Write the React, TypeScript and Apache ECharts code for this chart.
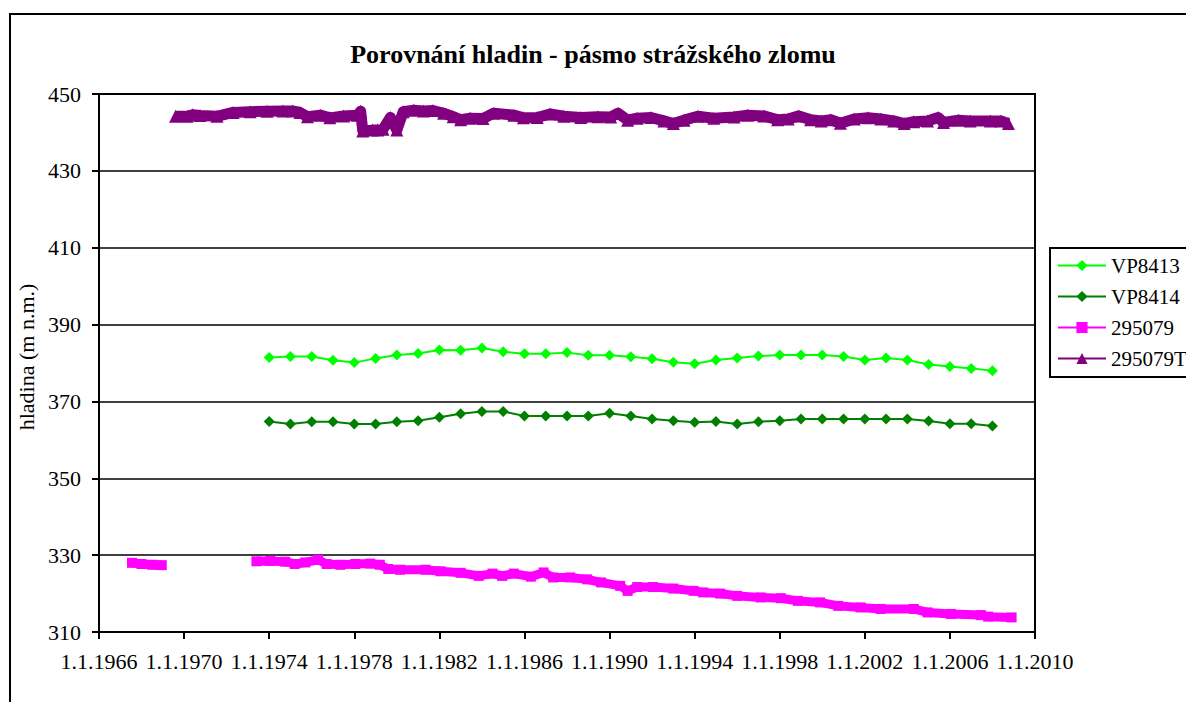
import React, { useEffect, useRef } from 'react';
import * as echarts from 'echarts';

const TITLE = 'Porovnání hladin - pásmo strážského zlomu';
const Y_NAME = 'hladina (m n.m.)';
const X_MIN = 1966;
const X_MAX = 2010;
const X_STEP = 4;
const Y_MIN = 310;
const Y_MAX = 450;
const Y_STEP = 20;

const vpYears = [1974, 1975, 1976, 1977, 1978, 1979, 1980, 1981, 1982, 1983, 1984, 1985, 1986, 1987, 1988, 1989, 1990, 1991, 1992, 1993, 1994, 1995, 1996, 1997, 1998, 1999, 2000, 2001, 2002, 2003, 2004, 2005, 2006, 2007, 2008];
const vp8413 = [381.4, 381.7, 381.7, 380.7, 380.1, 381.2, 382.1, 382.5, 383.4, 383.3, 383.9, 382.9, 382.4, 382.4, 382.7, 382.0, 382.0, 381.6, 381.1, 380.2, 379.8, 380.8, 381.3, 381.8, 382.1, 382.1, 382.1, 381.7, 380.8, 381.3, 380.8, 379.6, 379.1, 378.6, 378.0];
const vp8414 = [364.8, 364.1, 364.7, 364.7, 364.1, 364.1, 364.7, 365.0, 365.9, 366.8, 367.4, 367.4, 366.2, 366.2, 366.2, 366.2, 366.9, 366.2, 365.4, 365.0, 364.6, 364.8, 364.1, 364.7, 365.0, 365.4, 365.4, 365.4, 365.4, 365.4, 365.4, 364.9, 364.2, 364.2, 363.6];

const s295079Years = [1967.55, 1968.0, 1968.5, 1968.95, 1971.0, 1973.4, 1974.05, 1974.75, 1975.2, 1975.7, 1976.3, 1976.7, 1977.35, 1978.05, 1978.75, 1979.2, 1979.6, 1980.15, 1981.35, 1982.05, 1983.0, 1983.85, 1984.5, 1984.95, 1985.5, 1986.3, 1986.9, 1987.35, 1988.15, 1988.95, 1989.6, 1990.5, 1990.85, 1991.3, 1992.05, 1993.0, 1993.95, 1994.4, 1995.2, 1996.0, 1997.1, 1998.05, 1998.85, 1999.9, 2000.75, 2001.8, 2002.75, 2004.3, 2004.95, 2006.05, 2007.45, 2007.8, 2008.9];
const s295079 = [328.0, 327.7, 327.5, 327.4, null, 328.4, 328.5, 328.3, 327.7, 328.1, 328.8, 327.7, 327.5, 327.7, 327.8, 327.5, 326.4, 326.2, 326.2, 325.8, 325.4, 324.6, 325.2, 324.6, 325.2, 324.4, 325.5, 324.2, 324.2, 323.7, 322.9, 322.0, 320.7, 321.7, 321.7, 321.3, 320.7, 320.3, 320.0, 319.4, 319.0, 318.8, 318.1, 317.7, 316.8, 316.4, 316.0, 316.0, 315.1, 314.7, 314.4, 314.0, 313.8];

const s295079TYears = [1969.6, 1970.15, 1970.4, 1970.75, 1971.55, 1972.3, 1973.1, 1973.9, 1974.65, 1975.1, 1975.45, 1975.8, 1976.4, 1976.85, 1977.5, 1978.15, 1978.3, 1978.4, 1978.85, 1979.1, 1979.35, 1979.7, 1980.0, 1980.3, 1980.8, 1981.25, 1981.7, 1982.2, 1982.65, 1983.0, 1983.45, 1984.05, 1984.55, 1985.5, 1985.95, 1986.6, 1987.2, 1987.85, 1988.65, 1989.45, 1990.05, 1990.4, 1990.85, 1991.3, 1991.95, 1992.55, 1993.0, 1993.5, 1994.15, 1994.9, 1995.85, 1996.5, 1997.25, 1997.9, 1998.4, 1998.9, 1999.45, 1999.95, 2000.4, 2000.85, 2001.5, 2002.15, 2002.75, 2003.35, 2003.85, 2004.3, 2004.95, 2005.45, 2005.7, 2006.4, 2006.95, 2007.9, 2008.4, 2008.75];
const s295079T = [444.2, 444.2, 444.6, 444.4, 444.2, 445.2, 445.4, 445.5, 445.6, 445.6, 445.2, 444.1, 444.5, 443.8, 444.3, 444.5, 445.5, 440.4, 440.6, 440.6, 440.8, 443.9, 440.6, 445.4, 445.8, 445.6, 445.7, 445.0, 444.1, 443.3, 443.7, 443.6, 445.0, 444.5, 443.8, 443.9, 444.8, 444.2, 443.9, 444.1, 444.0, 445.0, 443.2, 443.7, 443.9, 443.0, 442.3, 443.2, 444.2, 443.7, 444.0, 444.5, 444.3, 443.3, 443.5, 444.3, 443.3, 443.0, 443.3, 442.4, 443.5, 443.8, 443.5, 443.0, 442.3, 442.8, 443.0, 443.9, 442.6, 443.2, 443.0, 443.0, 443.0, 442.3];

const FONT = "'Liberation Serif', 'Times New Roman', serif";

const pairs = (xs: number[], ys: (number | null)[]) =>
  xs.map((x, i) => [x, ys[i] === null ? '-' : ys[i]]);

export default function App() {
  const ref = useRef<HTMLDivElement>(null);
  useEffect(() => {
    if (!ref.current) return;
    const chart = echarts.init(ref.current, undefined, { renderer: 'svg' });
    chart.setOption({
      animation: false,
      backgroundColor: '#fff',
      textStyle: { fontFamily: FONT, color: '#000' },
      title: {
        text: TITLE,
        left: 'center',
        top: 41,
        padding: 0,
        textStyle: { fontFamily: FONT, fontSize: 26, fontWeight: 'bold', color: '#000' },
      },
      graphic: [
        {
          type: 'rect',
          silent: true,
          shape: { x: 10, y: 14, width: 1300, height: 800 },
          style: { fill: 'none', stroke: '#000', lineWidth: 2 },
          z: 100,
        },
      ],
      grid: {
        left: 99,
        top: 94,
        right: 151,
        bottom: 70,
        show: true,
        borderColor: '#000',
        borderWidth: 2,
        backgroundColor: 'transparent',
      },
      legend: {
        orient: 'vertical',
        left: 1050,
        top: 248,
        padding: [7, 8, 8, 7],
        itemGap: 10,
        itemWidth: 48,
        itemHeight: 14,
        borderColor: '#000',
        borderWidth: 2,
        lineStyle: { width: 2 },
        textStyle: { fontFamily: FONT, fontSize: 21, color: '#000' },
        data: ['VP8413', 'VP8414', '295079', '295079T'],
      },
      xAxis: {
        type: 'value',
        min: X_MIN,
        max: X_MAX,
        interval: X_STEP,
        axisLine: { lineStyle: { color: '#000', width: 2 } },
        axisTick: { show: true, length: 7, lineStyle: { color: '#000', width: 2 } },
        axisLabel: {
          fontFamily: FONT,
          fontSize: 22,
          color: '#000',
          margin: 18,
          formatter: (v: number) => '1.1.' + v,
        },
        splitLine: { show: false },
      },
      yAxis: {
        type: 'value',
        min: Y_MIN,
        max: Y_MAX,
        interval: Y_STEP,
        name: Y_NAME,
        nameLocation: 'middle',
        nameGap: 53,
        nameTextStyle: { fontFamily: FONT, fontSize: 22, color: '#000', padding: [0, 0, 0, 12] },
        axisLine: { show: true, lineStyle: { color: '#000', width: 2 } },
        axisTick: { show: true, length: 7, lineStyle: { color: '#000', width: 2 } },
        axisLabel: { fontFamily: FONT, fontSize: 22, color: '#000', margin: 18 },
        splitLine: { show: true, lineStyle: { color: '#000', width: 1.5 } },
      },
      series: [
        {
          name: 'VP8413',
          type: 'line',
          data: pairs(vpYears, vp8413),
          symbol: 'diamond',
          symbolSize: 11,
          itemStyle: { color: '#00FF00' },
          lineStyle: { color: '#00FF00', width: 2 },
        },
        {
          name: 'VP8414',
          type: 'line',
          data: pairs(vpYears, vp8414),
          symbol: 'diamond',
          symbolSize: 11,
          itemStyle: { color: '#008000' },
          lineStyle: { color: '#008000', width: 2 },
        },
        {
          name: '295079',
          type: 'line',
          data: pairs(s295079Years, s295079),
          symbol: 'rect',
          symbolSize: 10,
          connectNulls: false,
          itemStyle: { color: '#FF00FF' },
          lineStyle: { color: '#FF00FF', width: 9, join: 'round' },
        },
        {
          name: '295079T',
          type: 'line',
          data: pairs(s295079TYears, s295079T),
          symbol: 'triangle',
          symbolSize: 13,
          itemStyle: { color: '#800080' },
          lineStyle: { color: '#800080', width: 11, join: 'round' },
        },
      ],
    });
    return () => chart.dispose();
  }, []);
  return (
    <div
      ref={ref}
      style={{ position: 'fixed', left: 0, top: 0, width: 1186, height: 702, background: '#fff' }}
    />
  );
}
